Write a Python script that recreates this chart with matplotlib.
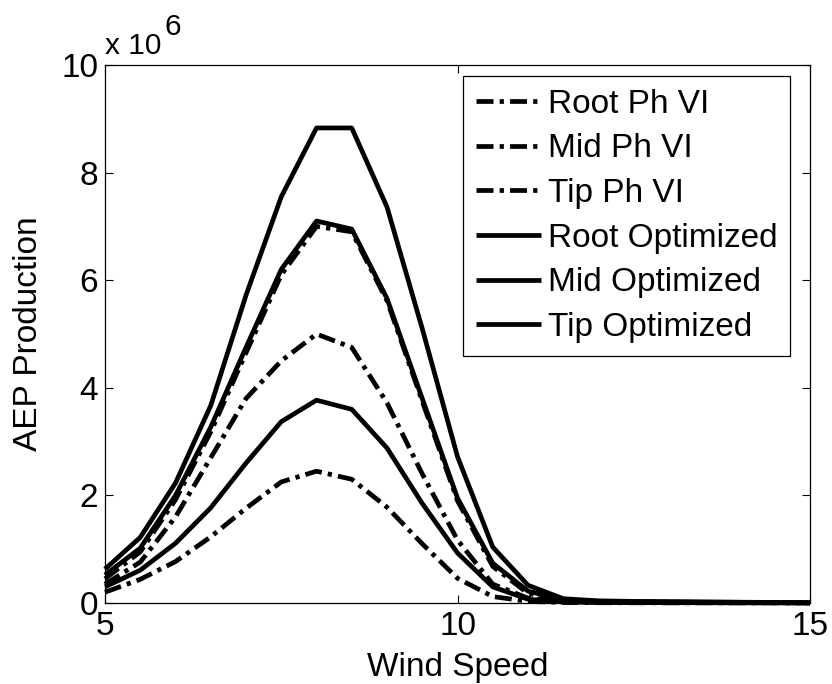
import matplotlib
matplotlib.use("Agg")
import matplotlib.pyplot as plt

plt.rcParams['font.family'] = ['Liberation Sans', 'DejaVu Sans']

# Data (AEP in units of 1e6)
wind_speed = [5, 5.5, 6, 6.5, 7, 7.5, 8, 8.5, 9, 9.5, 10, 10.5, 11, 11.5,
              12, 12.5, 13, 13.5, 14, 14.5, 15]
root_ph_vi = [0.20, 0.44, 0.77, 1.23, 1.76, 2.25, 2.45, 2.30, 1.78, 1.10, 0.46, 0.12, 0.03, 0.010,
              0.005, 0.004, 0.003, 0.003, 0.002, 0.002, 0.001]
mid_ph_vi = [0.35, 0.76, 1.60, 2.70, 3.80, 4.50, 5.00, 4.75, 3.72, 2.40, 1.17, 0.35, 0.09, 0.030,
             0.015, 0.010, 0.008, 0.006, 0.005, 0.004, 0.002]
tip_ph_vi = [0.45, 0.95, 1.92, 3.18, 4.65, 6.10, 7.00, 6.90, 5.62, 3.75, 1.90, 0.68, 0.18, 0.050,
             0.025, 0.020, 0.015, 0.012, 0.010, 0.007, 0.003]
root_opt = [0.30, 0.61, 1.11, 1.77, 2.60, 3.37, 3.77, 3.60, 2.88, 1.85, 0.93, 0.30, 0.07, 0.020,
            0.010, 0.008, 0.006, 0.005, 0.004, 0.003, 0.002]
mid_opt = [0.52, 1.02, 2.00, 3.27, 4.75, 6.20, 7.10, 6.95, 5.66, 3.80, 1.95, 0.74, 0.22, 0.060,
           0.030, 0.020, 0.018, 0.015, 0.012, 0.008, 0.004]
tip_opt = [0.63, 1.22, 2.23, 3.67, 5.72, 7.55, 8.83, 8.83, 7.36, 5.10, 2.72, 1.04, 0.33, 0.080,
           0.040, 0.030, 0.025, 0.020, 0.015, 0.010, 0.005]

series = [
    ("Root Ph VI", root_ph_vi, "dashdot"),
    ("Mid Ph VI", mid_ph_vi, "dashdot"),
    ("Tip Ph VI", tip_ph_vi, "dashdot"),
    ("Root Optimized", root_opt, "solid"),
    ("Mid Optimized", mid_opt, "solid"),
    ("Tip Optimized", tip_opt, "solid"),
]
x_ticks = [5, 10, 15]
y_ticks = [0, 2, 4, 6, 8, 10]

W, H = 832, 684
fig = plt.figure(figsize=(W / 100, H / 100), dpi=100)
ax_l, ax_r, ax_t, ax_b = 105, 810, 65, 603
ax = fig.add_axes([ax_l / W, 1 - ax_b / H, (ax_r - ax_l) / W, (ax_b - ax_t) / H])

dash_pattern = (0, (3.6, 1.3, 0.9, 1.3))
for label, vals, style in series:
    ls = dash_pattern if style == "dashdot" else "-"
    ax.plot(wind_speed, vals, color="black", linewidth=3.4, linestyle=ls,
            dash_capstyle="butt", solid_capstyle="butt", label=label, clip_on=False)

ax.set_xlim(5, 15)
ax.set_ylim(0, 10)
ax.set_xticks(x_ticks)
ax.set_yticks(y_ticks)
ax.set_xticklabels([str(t) for t in x_ticks])
ax.set_yticklabels([str(t) for t in y_ticks])
ax.tick_params(direction="in", length=5.5, width=0.8, top=True, right=True,
               labelsize=24, pad=5, colors="black")
ax.tick_params(axis="x", pad=6)
for sp in ax.spines.values():
    sp.set_linewidth(0.9)
    sp.set_color("black")

ax.set_xlabel("Wind Speed", fontsize=24, labelpad=7)
ax.set_ylabel("AEP Production", fontsize=24, labelpad=12)

# exponent label "x 10^6"
fig.text(105 / W, 1 - 54 / H, "x 10", fontsize=21.5, ha="left", va="baseline")
fig.text(165 / W, 1 - 35 / H, "6", fontsize=21.5, ha="left", va="baseline")

leg_left_px, leg_top_px = 463, 76
leg = ax.legend(loc="upper left",
                bbox_to_anchor=((leg_left_px - ax_l) / (ax_r - ax_l),
                                (ax_b - leg_top_px) / (ax_b - ax_t)),
                borderaxespad=0.0,
                fontsize=24, frameon=True, fancybox=False,
                edgecolor="black", framealpha=1, labelspacing=0.41,
                handlelength=1.95, handletextpad=0.21, borderpad=0.38)
leg.get_frame().set_linewidth(0.9)

fig.savefig("out.png", dpi=100)
